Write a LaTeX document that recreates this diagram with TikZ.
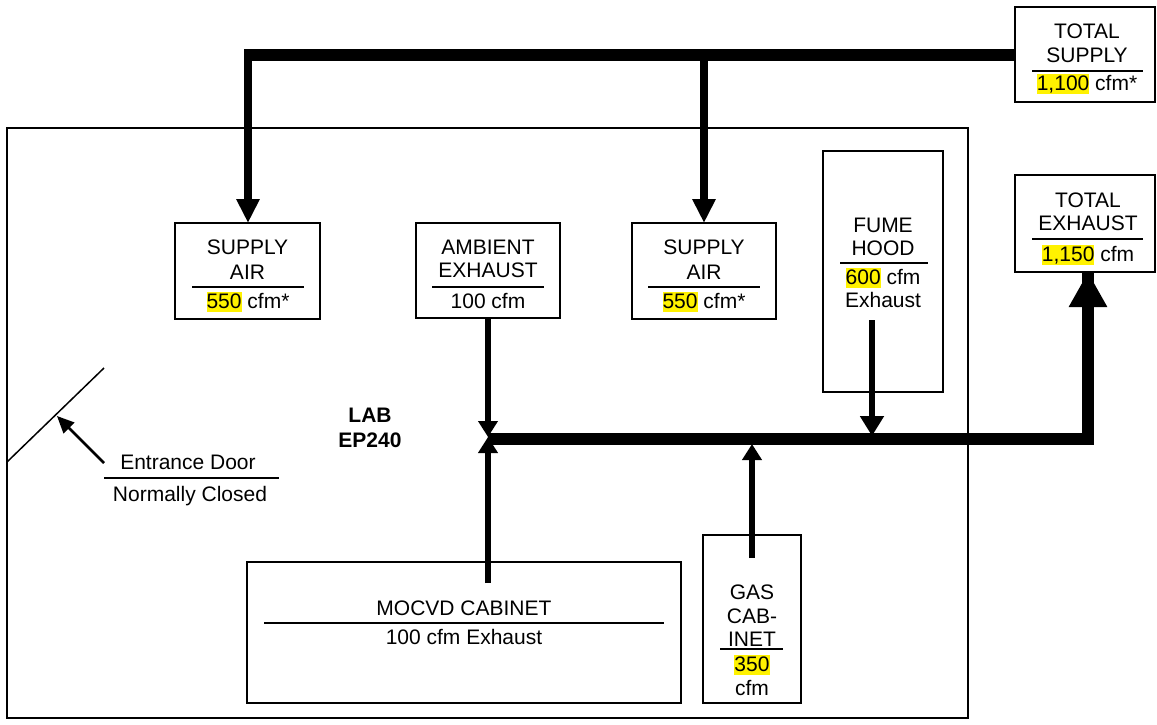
\documentclass[tikz,border=0pt]{standalone}
\usepackage{fontspec}
\setmainfont{Liberation Sans}
\usetikzlibrary{arrows.meta}
\newcommand{\yhl}[1]{\begingroup\setlength{\fboxsep}{0pt}\colorbox{yellow}{\vrule height 17pt depth 3pt width 0pt #1}\endgroup}
\begin{document}
\begin{tikzpicture}[x=1pt,y=-1pt,
  every node/.style={font=\fontsize{21}{25}\selectfont, inner sep=0pt, outer sep=0pt},
  txt/.style={text height=15pt, text depth=0pt, anchor=center},
  box/.style={draw, line width=1.6pt, minimum width=#1},
  rulel/.style={line width=1.5pt},
  supbar/.style={line width=12pt},
  exbar/.style={line width=12pt, line join=miter},
  suparrow/.style={line width=8pt, -{Triangle[length=24pt,width=22pt]}},
  smallarrow/.style={line width=6.5pt, -{Triangle[length=16pt,width=19pt]}},
  midarrow/.style={line width=6.5pt, -{Triangle[length=20pt,width=23pt]}},
  bigarrow/.style={line width=12pt, -{Triangle[length=35pt,width=36pt]}},
  doorarrow/.style={line width=2.5pt, -{Triangle[length=17pt,width=15pt]}}
]
\useasboundingbox (0,0) rectangle (1157,725);

% lab room
\node[box=961pt, minimum height=590pt, line width=1.8pt] (lab) at (487.5,423) {};

% boxes
\node[box=140pt, minimum height=95pt] (ts) at (1085,54.5) {};
\node[box=140pt, minimum height=97pt] (te) at (1085,223.5) {};
\node[box=145pt, minimum height=96pt] (sa1) at (247.5,271) {};
\node[box=144pt, minimum height=95pt] (amb) at (488,270.5) {};
\node[box=144pt, minimum height=96pt] (sa2) at (704,271) {};
\node[box=120pt, minimum height=241pt] (fh) at (883,271.5) {};
\node[box=434pt, minimum height=141pt] (moc) at (464,632.5) {};
\node[box=98pt, minimum height=168pt] (gas) at (752,619) {};

% total supply
\node[txt] (tsa) at (1087,31) {TOTAL};
\node[txt] (tsb) at (1087,55) {SUPPLY};
\draw[rulel] (1032,71) -- (1143,71);
\node[txt] (tsc) at (1087,83) {\yhl{1,100} cfm*};

% total exhaust
\node[txt] (tea) at (1088,200) {TOTAL};
\node[txt] (teb) at (1088,223) {EXHAUST};
\draw[rulel] (1032,239) -- (1143,239);
\node[txt] (tec) at (1088,254) {\yhl{1,150} cfm};

% supply air 1
\node[txt] (s1a) at (247.5,247) {SUPPLY};
\node[txt] (s1b) at (247.5,272) {AIR};
\draw[rulel] (192,287) -- (304,287);
\node[txt] (s1c) at (248,301) {\yhl{550} cfm*};

% ambient exhaust
\node[txt] (ama) at (488,247) {AMBIENT};
\node[txt] (amb2) at (488,270) {EXHAUST};
\draw[rulel] (432,287) -- (544,287);
\node[txt] (amc) at (488,301) {100 cfm};

% supply air 2
\node[txt] (s2a) at (704,247) {SUPPLY};
\node[txt] (s2b) at (704,272) {AIR};
\draw[rulel] (648,287) -- (760,287);
\node[txt] (s2c) at (704,301) {\yhl{550} cfm*};

% fume hood
\node[txt] (fha) at (883,225) {FUME};
\node[txt] (fhb) at (883,248) {HOOD};
\draw[rulel] (840,263) -- (928,263);
\node[txt] (fhc) at (883,277) {\yhl{600} cfm};
\node[txt] (fhd) at (883,300) {Exhaust};

% mocvd
\node[txt] (moa) at (464,608) {MOCVD CABINET};
\draw[rulel] (264,623) -- (664,623);
\node[txt] (mob) at (464,637) {100 cfm Exhaust};

% gas cabinet
\node[txt] (gaa) at (752,592) {GAS};
\node[txt] (gab) at (752,616) {CAB-};
\node[txt] (gac) at (752,639) {INET};
\draw[rulel] (720,649) -- (783,649);
\node[txt] (gad) at (752,664) {\yhl{350}};
\node[txt] (gae) at (752,688) {cfm};

% lab label
\node[txt, font=\fontsize{21}{25}\selectfont\bfseries] (laba) at (370,415) {LAB};
\node[txt, font=\fontsize{21}{25}\selectfont\bfseries] (labb) at (370,440) {EP240};

% door
\coordinate (d1) at (7,462);
\coordinate (d2) at (104,368);
\draw[line width=1.5pt] (d1) -- (d2);
\coordinate (dl) at (104,463);
\coordinate (dt) at (57,416);
\draw[doorarrow] (dl) -- (dt);
\node[txt] (ed) at (188,462) {Entrance Door};
\draw[rulel] (104,478) -- (279,478);
\node[txt] (nc) at (190,494) {Normally Closed};

% supply ducts
\coordinate (sbar) at (244,55);
\coordinate (sj1) at (248,55);
\coordinate (sj2) at (704,55);
\draw[supbar] (sbar) -- (ts.west |- sbar);
\draw[suparrow] (sj1) -- (sj1 |- sa1.north);
\draw[suparrow] (sj2) -- (sa2.north);

% exhaust ducts
\coordinate (ej) at (488,439);
\coordinate (ec) at (1088,439);
\draw[exbar] (ej) -- (ec) -- (ec |- te.south);
\draw[bigarrow] (1088,330) -- (ec |- te.south);
\draw[smallarrow] (amb.south) -- (488,437);
\coordinate (mocs) at (488,583);
\draw[smallarrow] (mocs) -- (488,437);
\coordinate (gass) at (752,558);
\coordinate (gj) at (752,444);
\draw[smallarrow] (gass) -- (gj);
\coordinate (fhs) at (872,320);
\coordinate (fj) at (872,436);
\draw[midarrow] (fhs) -- (fj);
\end{tikzpicture}
\end{document}
